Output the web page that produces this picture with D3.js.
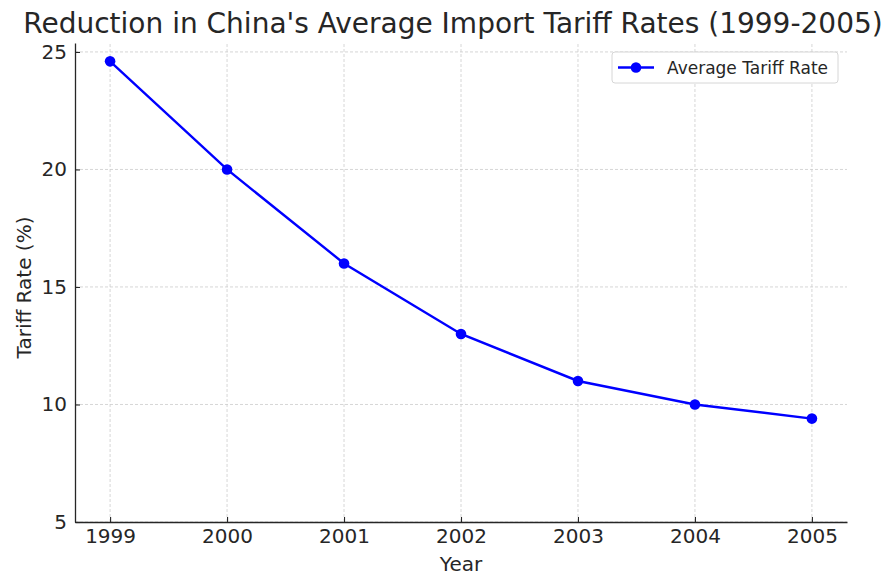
<!DOCTYPE html>
<html>
<head>
<meta charset="utf-8">
<script src="https://cdn.jsdelivr.net/npm/d3@7"></script>
<style>
  body { margin: 0; background: #fff; }
  text { font-family: "DejaVu Sans", sans-serif; fill: #262626; }
</style>
</head>
<body>
<div id="chart"></div>
<script>
// data
var years = [1999, 2000, 2001, 2002, 2003, 2004, 2005];
var tariffRates = [24.6, 20, 16, 13, 11, 10, 9.4];
var yTicks = [5, 10, 15, 20, 25];
var seriesName = "Average Tariff Rate";

var width = 887, height = 576;
var margin = {top: 43, right: 40, bottom: 54, left: 75};

var svg = d3.select("#chart").append("svg")
    .attr("width", width)
    .attr("height", height);

var x = d3.scaleLinear()
    .domain([1999 - 0.3, 2005 + 0.3])
    .range([margin.left, width - margin.right]);

var y = d3.scaleLinear()
    .domain([5, 25.38])
    .range([height - margin.bottom, margin.top]);

// grid
svg.append("g").selectAll("line.vg")
    .data(years).enter().append("line")
    .attr("x1", function(d){ return x(d); })
    .attr("x2", function(d){ return x(d); })
    .attr("y1", y.range()[0])
    .attr("y2", y.range()[1])
    .attr("stroke", "#cccccc")
    .attr("stroke-width", 0.8)
    .attr("stroke-dasharray", "3,2");

svg.append("g").selectAll("line.hg")
    .data(yTicks).enter().append("line")
    .attr("x1", x.range()[0])
    .attr("x2", x.range()[1])
    .attr("y1", function(d){ return y(d); })
    .attr("y2", function(d){ return y(d); })
    .attr("stroke", "#cccccc")
    .attr("stroke-width", 0.8)
    .attr("stroke-dasharray", "3,2");

// axes, ticks pointing inward
var xAxis = d3.axisBottom(x).tickValues(years).tickFormat(d3.format("d"))
    .tickSizeInner(-5).tickSizeOuter(0).tickPadding(7);
var yAxis = d3.axisLeft(y).tickValues(yTicks)
    .tickSizeInner(-5).tickSizeOuter(0).tickPadding(8);

var gx = svg.append("g")
    .attr("transform", "translate(0," + (height - margin.bottom) + ")")
    .call(xAxis);
var gy = svg.append("g")
    .attr("transform", "translate(" + margin.left + ",0)")
    .call(yAxis);

[gx, gy].forEach(function(g){
    g.select(".domain").attr("stroke", "#262626").attr("stroke-width", 1.3);
    g.selectAll(".tick line").attr("stroke", "#262626").attr("stroke-width", 1.1);
    g.selectAll(".tick text").style("font-family", "DejaVu Sans").style("font-size", "20px").attr("fill", "#262626");
});

// line + markers
var line = d3.line()
    .x(function(d, i){ return x(years[i]); })
    .y(function(d){ return y(d); });

svg.append("path")
    .datum(tariffRates)
    .attr("d", line)
    .attr("fill", "none")
    .attr("stroke", "#0000ff")
    .attr("stroke-width", 2.4);

svg.selectAll("circle.pt")
    .data(tariffRates).enter().append("circle")
    .attr("cx", function(d, i){ return x(years[i]); })
    .attr("cy", function(d){ return y(d); })
    .attr("r", 5.3)
    .attr("fill", "#0000ff");

// title and labels
svg.append("text")
    .attr("x", 453)
    .attr("y", 33)
    .attr("text-anchor", "middle")
    .style("font-size", "28px")
    .attr("fill", "#333")
    .text("Reduction in China's Average Import Tariff Rates (1999-2005)");

svg.append("text")
    .attr("x", (margin.left + width - margin.right) / 2)
    .attr("y", 571)
    .attr("text-anchor", "middle")
    .style("font-size", "20px")
    .text("Year");

svg.append("text")
    .attr("transform", "translate(31," + ((margin.top + height - margin.bottom) / 2 + 5) + ") rotate(-90)")
    .attr("text-anchor", "middle")
    .style("font-size", "20px")
    .text("Tariff Rate (%)");

// legend
var lg = svg.append("g").attr("transform", "translate(612,52)");
lg.append("rect")
    .attr("width", 226).attr("height", 31).attr("rx", 3)
    .attr("fill", "#fff").attr("stroke", "#d6d6d6");
lg.append("line")
    .attr("x1", 6).attr("x2", 42).attr("y1", 15.5).attr("y2", 15.5)
    .attr("stroke", "#0000ff").attr("stroke-width", 2.4);
lg.append("circle").attr("cx", 24).attr("cy", 15.5).attr("r", 5.3).attr("fill", "#0000ff");
lg.append("text")
    .attr("x", 55).attr("y", 21.5)
    .style("font-size", "17px")
    .attr("fill", "#333")
    .text(seriesName);
</script>
</body>
</html>
